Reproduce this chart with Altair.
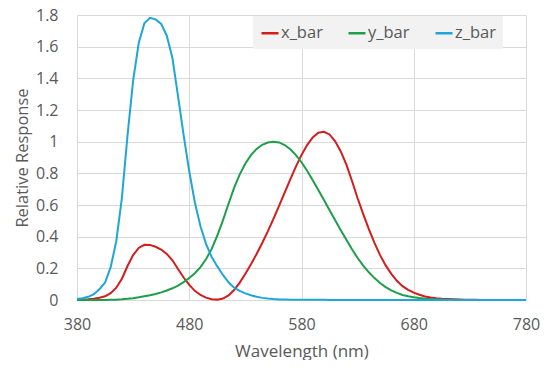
import altair as alt
import pandas as pd

wavelength = list(range(380, 785, 5))
x_bar = [0.001368, 0.002236, 0.004243, 0.007650, 0.014310, 0.023190, 0.043510, 0.077630, 0.134380, 0.214770,
         0.283900, 0.328500, 0.348280, 0.348060, 0.336200, 0.318700, 0.290800, 0.251100, 0.195360, 0.142100,
         0.095640, 0.057950, 0.032010, 0.014700, 0.004900, 0.002400, 0.009300, 0.029100, 0.063270, 0.109600,
         0.165500, 0.225750, 0.290400, 0.359700, 0.433450, 0.512050, 0.594500, 0.678400, 0.762100, 0.842500,
         0.916300, 0.978600, 1.026300, 1.056700, 1.062200, 1.045600, 1.002600, 0.938400, 0.854450, 0.751400,
         0.642400, 0.541900, 0.447900, 0.360800, 0.283500, 0.218700, 0.164900, 0.121200, 0.087400, 0.063600,
         0.046770, 0.032900, 0.022700, 0.015840, 0.011359, 0.008111, 0.005790, 0.004109, 0.002899, 0.002049,
         0.001440, 0.001000, 0.000690, 0.000476, 0.000332, 0.000235, 0.000166, 0.000117, 0.000083, 0.000059,
         0.000042]
y_bar = [0.000039, 0.000064, 0.000120, 0.000217, 0.000396, 0.000640, 0.001210, 0.002180, 0.004000, 0.007300,
         0.011600, 0.016840, 0.023000, 0.029800, 0.038000, 0.048000, 0.060000, 0.073900, 0.090980, 0.112600,
         0.139020, 0.169300, 0.208020, 0.258600, 0.323000, 0.407300, 0.503000, 0.608200, 0.710000, 0.793200,
         0.862000, 0.914850, 0.954000, 0.980300, 0.994950, 1.000000, 0.995000, 0.978600, 0.952000, 0.915400,
         0.870000, 0.816300, 0.757000, 0.694900, 0.631000, 0.566800, 0.503000, 0.441200, 0.381000, 0.321000,
         0.265000, 0.217000, 0.175000, 0.138200, 0.107000, 0.081600, 0.061000, 0.044580, 0.032000, 0.023200,
         0.017000, 0.011920, 0.008210, 0.005723, 0.004102, 0.002929, 0.002091, 0.001484, 0.001047, 0.000740,
         0.000520, 0.000361, 0.000249, 0.000172, 0.000120, 0.000085, 0.000060, 0.000042, 0.000030, 0.000021,
         0.000015]
z_bar = [0.006450, 0.010550, 0.020050, 0.036210, 0.067850, 0.110200, 0.207400, 0.371300, 0.645600, 1.039050,
         1.385600, 1.622960, 1.747060, 1.782600, 1.772110, 1.744100, 1.669200, 1.528100, 1.287640, 1.041900,
         0.812950, 0.616200, 0.465180, 0.353300, 0.272000, 0.212300, 0.158200, 0.111700, 0.078250, 0.057250,
         0.042160, 0.029840, 0.020300, 0.013400, 0.008750, 0.005750, 0.003900, 0.002750, 0.002100, 0.001800,
         0.001650, 0.001400, 0.001100, 0.001000, 0.000800, 0.000600, 0.000340, 0.000240, 0.000190, 0.000100,
         0.000050, 0.000030, 0.000020, 0.000010] + [0.0] * 27

series_names = ["x_bar", "y_bar", "z_bar"]
series_colors = ["#d41c1c", "#1e9e48", "#1ea6d8"]
x_ticks = [380, 480, 580, 680, 780]
y_ticks = [0, 0.2, 0.4, 0.6, 0.8, 1.0, 1.2, 1.4, 1.6, 1.8]

rows = []
for name, vals in zip(series_names, [x_bar, y_bar, z_bar]):
    for w, v in zip(wavelength, vals):
        rows.append({"Wavelength": w, "Response": v, "Series": name})
df = pd.DataFrame(rows)

font = "Open Sans"
text_color = "#595959"
grid_color = "#d9d9d9"

chart = alt.Chart(df).mark_line(strokeWidth=2).encode(
    x=alt.X("Wavelength:Q",
            scale=alt.Scale(domain=[380, 780], nice=False, zero=False),
            axis=alt.Axis(values=x_ticks, title="Wavelength (nm)", grid=True,
                          gridColor=grid_color, domainColor=grid_color, ticks=False,
                          labelPadding=16, titlePadding=11, labelFontSize=16, titleFontSize=17,
                          labelColor=text_color, titleColor=text_color, labelFont=font, titleFont=font,
                          titleFontWeight="normal", labelFlush=False)),
    y=alt.Y("Response:Q",
            scale=alt.Scale(domain=[0, 1.8], nice=False),
            axis=alt.Axis(values=y_ticks, format="~g", title="Relative Response", grid=True,
                          gridColor=grid_color, domain=False, ticks=False,
                          labelPadding=19, titlePadding=5, labelFontSize=16, titleFontSize=16.5,
                          labelColor=text_color, titleColor=text_color, labelFont=font, titleFont=font,
                          titleFontWeight="normal")),
    color=alt.Color("Series:N",
                    scale=alt.Scale(domain=series_names, range=series_colors),
                    legend=alt.Legend(title=None, orient="none", legendX=176, legendY=1,
                                      direction="horizontal", fillColor="#f2f2f2",
                                      symbolType="stroke", symbolSize=289, symbolStrokeWidth=2.5,
                                      labelFontSize=16.5, labelFont=font, labelColor=text_color,
                                      columnPadding=20, padding=7, labelOffset=1)),
).properties(
    width=449, height=285,
    autosize=alt.AutoSizeParams(type="none"),
    padding={"left": 69, "top": 7, "right": 14, "bottom": 60},
).configure_view(stroke=None)

chart.save("out.html", embed_options={"renderer": "svg", "actions": False})
